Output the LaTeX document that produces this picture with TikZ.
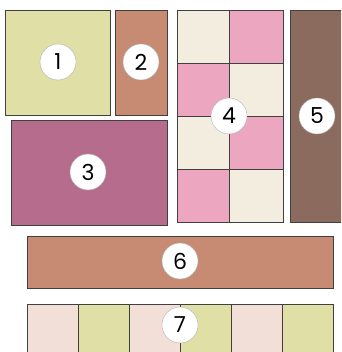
\documentclass[tikz,border=0pt]{standalone}
\usepackage{fontspec}
\setmainfont{Poppins}
\usepackage{tikz}

\definecolor{sage}{HTML}{DFDFA6}
\definecolor{clay}{HTML}{C68B72}
\definecolor{mauve}{HTML}{B66C8D}
\definecolor{cream}{HTML}{F3EDE0}
\definecolor{rose}{HTML}{EDA6BF}
\definecolor{bark}{HTML}{8B6B5E}
\definecolor{blush}{HTML}{F2DFD8}

\tikzset{
  patch/.style={draw=black!75, line width=0.9pt},
  num/.style={circle, draw=black!30, fill=white, minimum size=36pt, inner sep=0pt,
    font=\fontsize{22}{22}\selectfont}
}

\begin{document}
\begin{tikzpicture}[x=1pt, y=-1pt]
\useasboundingbox (0,0) rectangle (341,352);
\clip (0,0) rectangle (341,352);
% top left blocks
\filldraw[patch, fill=sage] (5,10) rectangle (110,115);
\filldraw[patch, fill=clay] (115,10) rectangle (167,115);
\filldraw[patch, fill=mauve] (11,120) rectangle (167,225);
% checkerboard
\foreach \r/\a/\b in {0/cream/rose, 1/rose/cream, 2/cream/rose, 3/rose/cream} {
  \filldraw[patch, fill=\a] (177,10+53*\r) rectangle (229,63+53*\r);
  \filldraw[patch, fill=\b] (229,10+53*\r) rectangle (283,63+53*\r);
}
% tall strip on the right
\filldraw[patch, fill=bark] (290,10) rectangle (360,222);
% long bar
\filldraw[patch, fill=clay] (27,236) rectangle (333,288);
% striped row
\foreach \k/\c in {0/blush, 1/sage, 2/blush, 3/sage, 4/blush, 5/sage}
  \filldraw[patch, fill=\c] (27+51*\k,304) rectangle (78+51*\k,370);
% labels
\node[num] (one) at (58,62) {1};
\node[num] (two) at (141,62) {2};
\node[num] (three) at (88,172) {3};
\node[num] (four) at (229,116) {4};
\node[num] (five) at (317,116) {5};
\node[num] (six) at (180,261) {6};
\node[num] (seven) at (180,325) {7};
\end{tikzpicture}
\end{document}
